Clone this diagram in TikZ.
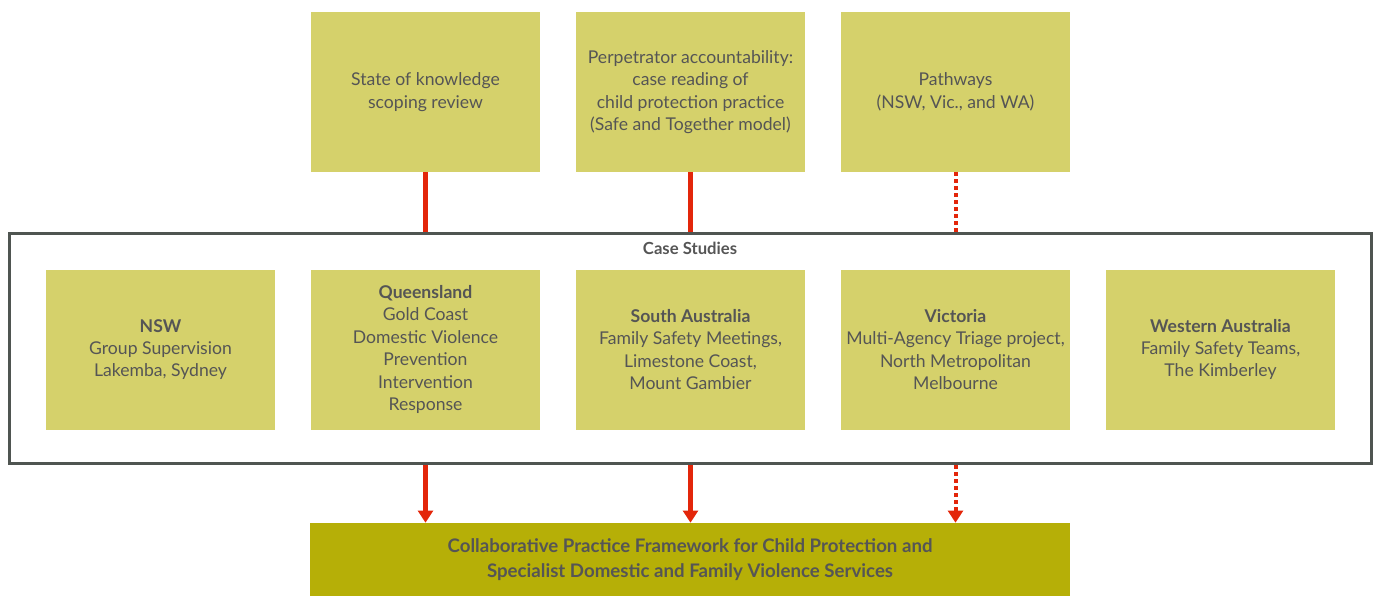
\documentclass[tikz,border=0pt]{standalone}
\usepackage{fontspec}
\setmainfont{Lato}
\usepackage{xcolor}
\usetikzlibrary{arrows.meta, positioning}

\definecolor{boxfill}{HTML}{D5D16B}
\definecolor{mainfill}{HTML}{B6AF07}
\definecolor{framegray}{HTML}{4F5551}
\definecolor{linkred}{HTML}{E3260A}
\definecolor{textgray}{HTML}{555555}

\begin{document}
\begin{tikzpicture}[
                x=0.75pt, y=-0.75pt,
                font=\fontsize{13.2}{16.8}\selectfont,
                every node/.style={text=textgray},
                block/.style={rectangle, fill=boxfill, minimum width=171.75pt, minimum height=120pt, align=center, inner sep=2pt},
                outcome/.style={rectangle, fill=mainfill, minimum width=570pt, minimum height=54.75pt, align=center, font=\bfseries\fontsize{14}{18.75}\selectfont},
                casebox/.style={rectangle, draw=framegray, line width=2.25pt, minimum width=1021.5pt, minimum height=172.5pt},
                link/.style={draw=linkred, line width=3.5pt},
                linkdot/.style={link, line width=3pt, dash pattern=on 3pt off 2.25pt},
                tip/.style={-{Triangle[width=11pt, length=9pt]}}
            ]
                \useasboundingbox (0,0) rectangle (1376,596);

                % Top nodes
                \node[block] (review) at (425.5,92) {State of knowledge\\scoping review};
                \node[block] (perp) at (690.5,92) {Perpetrator accountability:\\case reading of\\child protection practice\\(Safe and Together model)};
                \node[block] (path) at (955.5,92) {Pathways\\(NSW, Vic., and WA)};

                % Case studies
                \node[casebox] (cases) at (690,348.5) {};
                \node[font=\bfseries\fontsize{12.5}{15}\selectfont, below=4pt of cases.north] (cstitle) {Case Studies};

                \node[block] (nsw) at (160.5,349.5) {\textbf{NSW}\\Group Supervision\\Lakemba, Sydney};
                \node[block] (qld) at (425.5,349.5) {\textbf{Queensland}\\Gold Coast\\Domestic Violence\\Prevention\\Intervention\\Response};
                \node[block] (sa) at (690.5,349.5) {\textbf{South Australia}\\Family Safety Meetings,\\Limestone Coast,\\Mount Gambier};
                \node[block] (vic) at (955.5,349.5) {\textbf{Victoria}\\Multi-Agency Triage project,\\North Metropolitan\\Melbourne};
                \node[block] (wa) at (1220.5,349.5) {\textbf{Western Australia}\\Family Safety Teams,\\The Kimberley};

                % Framework
                \node[outcome] (frame) at (690,559.5) {Collaborative Practice Framework for Child Protection and\\Specialist Domestic and Family Violence Services};

                % Edges
                \path[link] (review.south) -- (review.south |- cases.north);
                \path[link] (perp.south) -- (perp.south |- cases.north);
                \path[linkdot] (path.south) -- (path.south |- cases.north);

                \path[link, tip] (review |- cases.south) -- (review |- frame.north);
                \path[link, tip] (perp |- cases.south) -- (perp |- frame.north);
                \path[linkdot, tip] (path |- cases.south) -- (path |- frame.north);
            \end{tikzpicture}
\end{document}
